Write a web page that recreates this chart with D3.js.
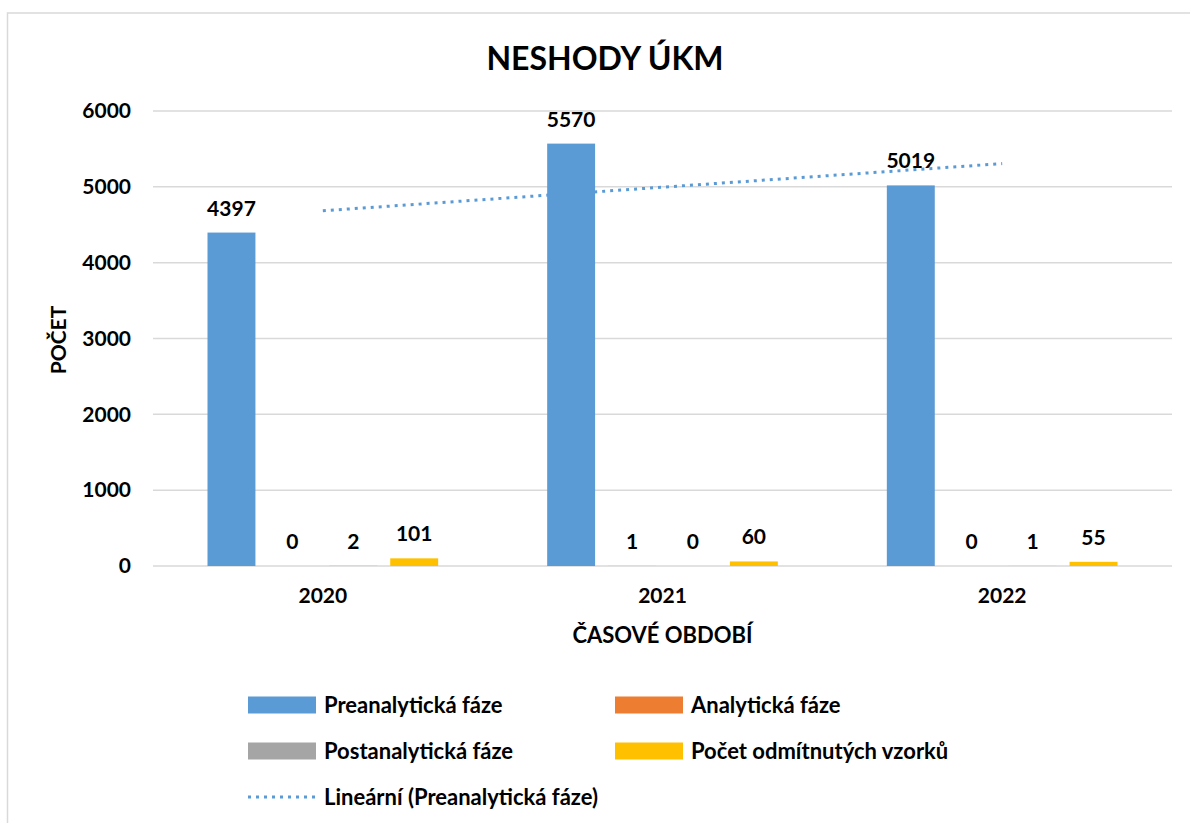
<!DOCTYPE html>
<html>
<head>
<meta charset="utf-8">
<script src="https://cdn.jsdelivr.net/npm/d3@7"></script>
<style>
  html, body { margin: 0; padding: 0; background: #fff; }
  svg { display: block; font-family: Lato, "Open Sans", sans-serif; font-weight: bold; }
</style>
</head>
<body>
<svg id="chart" width="1190" height="823"></svg>
<script>
const categories = ["2020", "2021", "2022"];
const seriesNames = ["Preanalytická fáze", "Analytická fáze", "Postanalytická fáze", "Počet odmítnutých vzorků"];
const preanalyticka = [4397, 5570, 5019];
const analyticka = [0, 1, 0];
const postanalyticka = [2, 0, 1];
const odmitnute = [101, 60, 55];
const seriesColors = ["#5b9bd5", "#ed7d31", "#a5a5a5", "#ffc000"];
const yTicks = [0, 1000, 2000, 3000, 4000, 5000, 6000];
const yTickLabels = ["0", "1000", "2000", "3000", "4000", "5000", "6000"];
const titleText = "NESHODY ÚKM";
const xTitle = "ČASOVÉ OBDOBÍ";
const yTitle = "POČET";
const trendLabel = "Lineární (Preanalytická fáze)";

const seriesValues = [preanalyticka, analyticka, postanalyticka, odmitnute];

const svg = d3.select("#chart");

// chart border
svg.append("rect").attr("x", 7.5).attr("y", 13).attr("width", 1300).attr("height", 900)
  .attr("fill", "#fff").attr("stroke", "#d9d9d9").attr("stroke-width", 1.5);

const plot = { left: 153, right: 1172, top: 111, bottom: 566 };

const x = d3.scaleBand().domain(categories).range([plot.left, plot.right]).paddingInner(0).paddingOuter(0);
const x1 = d3.scaleBand().domain(d3.range(seriesNames.length)).range([54.5, x.bandwidth() - 54.5]).paddingInner(0.213);
const y = d3.scaleLinear().domain([0, 6000]).range([plot.bottom, plot.top]);

// gridlines
svg.append("g").selectAll("line").data(yTicks).join("line")
  .attr("x1", plot.left).attr("x2", plot.right)
  .attr("y1", d => y(d)).attr("y2", d => y(d))
  .attr("stroke", "#d9d9d9").attr("stroke-width", 1.5);

// y axis labels
const yAxis = d3.axisLeft(y).tickValues(yTicks).tickFormat((d, i) => yTickLabels[i]).tickSize(0).tickPadding(22);
const yg = svg.append("g").attr("transform", `translate(${plot.left},0)`).call(yAxis);
yg.select(".domain").remove();
yg.selectAll("text").attr("font-size", 21).attr("font-family", "Lato").attr("font-weight", "bold").attr("fill", "#000");

// x axis labels
const xAxis = d3.axisBottom(x).tickSize(0).tickPadding(22);
const xg = svg.append("g").attr("transform", `translate(0,${plot.bottom})`).call(xAxis);
xg.select(".domain").remove();
xg.selectAll("text").attr("font-size", 21).attr("font-family", "Lato").attr("font-weight", "bold").attr("fill", "#000");

// trendline (linear regression of Preanalytická fáze)
const n = preanalyticka.length;
const xs = d3.range(1, n + 1);
const mx = d3.mean(xs), my = d3.mean(preanalyticka);
const slope = d3.sum(xs.map((v, i) => (v - mx) * (preanalyticka[i] - my))) / d3.sum(xs.map(v => (v - mx) ** 2));
const intercept = my - slope * mx;
const trendPts = xs.map((v, i) => [x(categories[i]) + x.bandwidth() / 2, y(intercept + slope * v)]);
svg.append("path").attr("d", d3.line()(trendPts))
  .attr("fill", "none").attr("stroke", "#5b9bd5").attr("stroke-width", 3)
  .attr("stroke-dasharray", "3,5");

// bars
const groups = svg.append("g").selectAll("g").data(categories).join("g")
  .attr("transform", d => `translate(${x(d)},0)`);

groups.selectAll("rect").data((c, ci) => seriesValues.map((s, si) => ({ si, v: s[ci] })))
  .join("rect")
  .attr("x", d => x1(d.si)).attr("width", x1.bandwidth())
  .attr("y", d => y(d.v)).attr("height", d => y(0) - y(d.v))
  .attr("fill", d => seriesColors[d.si]);

groups.selectAll("text").data((c, ci) => seriesValues.map((s, si) => ({ si, v: s[ci] })))
  .join("text")
  .attr("x", d => x1(d.si) + x1.bandwidth() / 2)
  .attr("y", d => y(d.v) - 17)
  .attr("text-anchor", "middle").attr("font-size", 21).attr("fill", "#000")
  .text(d => d.v);

// title
svg.append("text").attr("x", 605).attr("y", 70).attr("text-anchor", "middle")
  .attr("font-size", 32).attr("fill", "#000").text(titleText);

// axis titles
svg.append("text").attr("x", plot.left + (plot.right - plot.left) / 2).attr("y", 643)
  .attr("text-anchor", "middle").attr("font-size", 22).attr("fill", "#000").text(xTitle);
svg.append("text").attr("transform", "translate(66,340) rotate(-90)")
  .attr("text-anchor", "middle").attr("font-size", 21).attr("fill", "#000").text(yTitle);

// legend
const legendItems = [
  { name: seriesNames[0], color: seriesColors[0], x: 248, y: 705 },
  { name: seriesNames[1], color: seriesColors[1], x: 615, y: 705 },
  { name: seriesNames[2], color: seriesColors[2], x: 248, y: 751 },
  { name: seriesNames[3], color: seriesColors[3], x: 615, y: 751 }
];
const lg = svg.append("g");
legendItems.forEach(it => {
  lg.append("rect").attr("x", it.x).attr("y", it.y - 8.5).attr("width", 68).attr("height", 17).attr("fill", it.color);
  lg.append("text").attr("x", it.x + 76).attr("y", it.y + 8).attr("font-size", 22).attr("fill", "#000").text(it.name);
});
lg.append("line").attr("x1", 248).attr("x2", 316).attr("y1", 797).attr("y2", 797)
  .attr("stroke", "#5b9bd5").attr("stroke-width", 3).attr("stroke-dasharray", "3,5");
lg.append("text").attr("x", 324).attr("y", 805).attr("font-size", 22).attr("fill", "#000").text(trendLabel);
</script>
</body>
</html>
